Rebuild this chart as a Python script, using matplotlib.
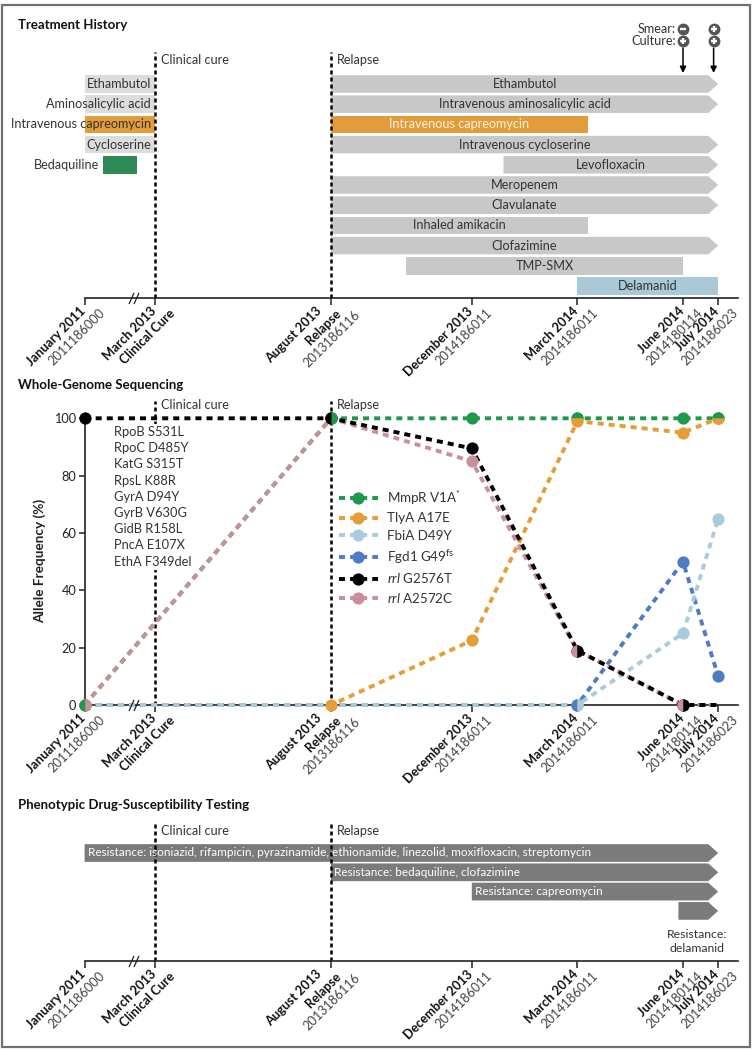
import matplotlib
matplotlib.use("Agg")
import matplotlib.pyplot as plt
from matplotlib.lines import Line2D
from matplotlib.patches import Rectangle, Polygon
from matplotlib import font_manager as fm

names = {f.name for f in fm.fontManager.ttflist}
FONT = "Lato" if "Lato" in names else "DejaVu Sans"
plt.rcParams["font.family"] = [FONT, "DejaVu Sans"]
plt.rcParams["mathtext.fontset"] = "custom"
plt.rcParams["mathtext.rm"] = FONT
plt.rcParams["mathtext.it"] = FONT + ":italic"
plt.rcParams["mathtext.bf"] = FONT + ":bold"

# ------------------------------------------------------------------ data
# time axis in months relative to March 2013 (Jan 2011 -> Mar 2013 is compressed by a break)
date_pos = [-2, 0, 5, 9, 12, 15, 16]
date_names = ["January 2011", "March 2013", "August 2013", "December 2013",
              "March 2014", "June 2014", "July 2014"]
date_events = ["", "Clinical Cure", "Relapse", "", "", "", ""]
sample_ids = ["2011186000", "", "2013186116", "2014186011", "2014186011",
              "2014180114", "2014186023"]
event_pos = [0, 5]
event_names = ["Clinical cure", "Relapse"]
axis_end = 16.55
break_pos = [-0.67, -0.54]

# Treatment history
pre_drugs = ["Ethambutol", "Aminosalicylic acid", "Intravenous capreomycin",
             "Cycloserine", "Bedaquiline"]
pre_start = [-2, -2, -2, -2, -1.47]
pre_end = [0, 0, 0, 0, -0.51]
pre_label_inside = [True, True, True, True, False]

post_drugs = ["Ethambutol", "Intravenous aminosalicylic acid", "Intravenous capreomycin",
              "Intravenous cycloserine", "Levofloxacin", "Meropenem", "Clavulanate",
              "Inhaled amikacin", "Clofazimine", "TMP-SMX", "Delamanid"]
post_start = [5, 5, 5, 5, 9.9, 5, 5, 5, 5, 7.13, 12]
post_end = [16, 16, 12.3, 16, 16, 16, 16, 12.3, 16, 15, 16]
post_ongoing = [True, True, False, True, True, True, True, False, True, False, False]

culture_dates = [15.0, 15.87]
smear_result = ["-", "+"]
culture_result = ["+", "+"]

# Whole-genome sequencing (allele frequency, %)
wgs_dates = [-2, 5, 9, 12, 15, 16]
mmpr = [0, 100, 100, 100, 100, 100]
tlya = [0, 0, 22.5, 99, 95, 100]
fbia = [0, 0, 0, 0, 25, 65]
fgd1 = [0, 0, 0, 0, 50, 10]
rrl_g = [100, 100, 89.5, 19, 0, 0]
rrl_a = [0, 100, 85, 19, 0, 0]
baseline_mutations = ["RpoB S531L", "RpoC D485Y", "KatG S315T", "RpsL K88R", "GyrA D94Y",
                      "GyrB V630G", "GidB R158L", "PncA E107X", "EthA F349del"]

# Phenotypic DST
pdst_labels = ["Resistance: isoniazid, rifampicin, pyrazinamide, ethionamide, linezolid, moxifloxacin, streptomycin",
               "Resistance: bedaquiline, clofazimine",
               "Resistance: capreomycin",
               "Resistance:\ndelamanid"]
pdst_start = [-2, 5, 9, 14.87]
pdst_end = [16, 16, 16, 16]

# ------------------------------------------------------------------ styles
W, H, DPI = 755, 1050, 100
X0, PPM = 155.0, 35.2          # pixel of month 0, pixels per month
XL = (-X0 / PPM, (W - X0) / PPM)
HEAD = 10 / PPM
GRAY = "#c8c8c8"
LGRAY = "#dcdcdc"
ORANGE_BAR = "#e39c3a"
GREEN_BAR = "#2e8b57"
BLUE_BAR = "#a9c8d8"
DARK_BAR = "#7b7b7b"
TXT = "#333333"
EVT_LS = (0, (1.6, 1.2))
FS = 9.1

C_MMPR, C_TLYA, C_FBIA, C_FGD1, C_RRLG, C_RRLA = (
    "#1b9a4b", "#e69d37", "#a8ccdb", "#4f7bc4", "#000000", "#c9909b")

fig = plt.figure(figsize=(W / DPI, H / DPI), dpi=DPI)


def box(top, bottom):
    return [0, 1 - bottom / H, 1, (bottom - top) / H]


def style_time_axis(ax, ybase):
    for s in ["top", "right", "left"]:
        ax.spines[s].set_visible(False)
    ax.spines["bottom"].set_bounds(-2, axis_end)
    ax.spines["bottom"].set_linewidth(1.2)
    ax.spines["bottom"].set_color("#222222")
    ax.set_xlim(XL)
    ax.set_xticks(date_pos)
    ax.set_xticklabels([])
    ax.tick_params(axis="x", direction="out", length=5, width=1.1, color="#222222")
    ax.set_facecolor("none")
    # axis break
    ax.plot(break_pos, [ybase] * len(break_pos), ls="none",
            marker=[(-0.45, -1), (0.45, 1)], ms=8, mew=0.9, color="#222222",
            clip_on=False, zorder=6)
    # rotated date labels
    for x, nm, ev, sid in zip(date_pos, date_names, date_events, sample_ids):
        lines = [(nm, "bold", "#111111")]
        if ev:
            lines.append((ev, "bold", "#111111"))
        if sid:
            lines.append((sid, "normal", "#444444"))
        n = len(lines)
        for k, (t, wgt, col) in enumerate(lines):
            dx = -5 - 10.5 * (n - 2) + 19 * k
            dy = -(7 + 2 * k)
            ax.annotate(t, xy=(x, ybase), xytext=(dx * 0.72, dy * 0.72),
                        textcoords="offset points", rotation=45, rotation_mode="anchor",
                        ha="right", va="top", fontsize=9.2, fontweight=wgt, color=col,
                        annotation_clip=False)


def arrow_bar(ax, s, e, r, h, color, ongoing):
    if ongoing:
        pts = [(s, r - h / 2), (e - HEAD, r - h / 2), (e, r), (e - HEAD, r + h / 2), (s, r + h / 2)]
    else:
        pts = [(s, r - h / 2), (e, r - h / 2), (e, r + h / 2), (s, r + h / 2)]
    ax.add_patch(Polygon(pts, closed=True, fc=color, ec="none", zorder=2))


def event_lines(ax, y0, y1, ylab):
    ax.vlines(event_pos, y0, y1, colors="black", linestyles=EVT_LS, lw=1.8, zorder=2.5)
    for x, t in zip(event_pos, event_names):
        ax.text(x + 6 / PPM, ylab, t, ha="left", va="center", fontsize=FS, color=TXT)


# ------------------------------------------------------------------ Treatment history
rowT = lambda p: (p - 84) / 20.2
axT = fig.add_axes(box(10, 298))
axT.set_ylim(rowT(298), rowT(10))
axT.set_yticks([])
style_time_axis(axT, rowT(298))
event_lines(axT, rowT(298), rowT(52), rowT(60))

BH = 0.866
pre_colors = [LGRAY, LGRAY, ORANGE_BAR, LGRAY, GREEN_BAR]
for i, (d, s, e, inside) in enumerate(zip(pre_drugs, pre_start, pre_end, pre_label_inside)):
    axT.barh(i, e - s, left=s, height=BH, color=pre_colors[i], zorder=2)
    xl = (e if inside else s) - 4 / PPM
    axT.text(xl, i, d, ha="right", va="center", fontsize=FS, color=TXT, zorder=3)

for i, (d, s, e, og) in enumerate(zip(post_drugs, post_start, post_end, post_ongoing)):
    col = ORANGE_BAR if "capreomycin" in d else (BLUE_BAR if d == "Delamanid" else GRAY)
    arrow_bar(axT, s, e, i, BH, col, og)
    tc = "#fbf3e4" if "capreomycin" in d else TXT
    axT.text((s + e) / 2, i, d, ha="center", va="center", fontsize=FS, color=tc, zorder=3)

# smear / culture
for j, (d, sm, cu) in enumerate(zip(culture_dates, smear_result, culture_result)):
    for yy, res in [(rowT(29), sm), (rowT(41), cu)]:
        axT.plot([d], [yy], "o", ms=7.5, color="#555555", clip_on=False, zorder=4)
        axT.plot([d], [yy], marker="+" if res == "+" else "_", ms=5, mew=1.7,
                 color="white", clip_on=False, zorder=5)
    axT.annotate("", xy=(d, rowT(73)), xytext=(d, rowT(48)),
                 arrowprops=dict(arrowstyle="-|>", color="black", lw=1.1,
                                 mutation_scale=9, shrinkA=0, shrinkB=0))
axT.text(culture_dates[0] - 7 / PPM, rowT(29), "Smear:", ha="right", va="center",
         fontsize=FS, color=TXT)
axT.text(culture_dates[0] - 7 / PPM, rowT(41), "Culture:", ha="right", va="center",
         fontsize=FS, color=TXT)

# ------------------------------------------------------------------ Whole-genome sequencing
vW = lambda p: (705 - p) / 2.867
axW = fig.add_axes(box(395, 722))
axW.set_ylim(vW(722), vW(395))
style_time_axis(axW, 0)
axW.spines["bottom"].set_position(("data", 0))
axW.spines["left"].set_visible(True)
axW.spines["left"].set_position(("data", -2))
axW.spines["left"].set_bounds(0, 100)
axW.spines["left"].set_linewidth(1.2)
axW.spines["left"].set_color("#222222")
axW.set_yticks([0, 20, 40, 60, 80, 100])
axW.tick_params(axis="y", direction="out", length=4, width=1.1, pad=2,
                labelsize=9.2, color="#222222", labelcolor="#222222")
event_lines(axW, 0, vW(401), vW(405))
axW.text(-1.165, vW(426), "\n".join(baseline_mutations), ha="left", va="top",
         fontsize=9.3, color=TXT, linespacing=1.42, zorder=3,
         bbox=dict(fc="white", ec="none", pad=1.5))

LW, MS = 2.8, 8.8
DASH = (0, (1.55, 1.3))
series = [  # draw order
    (mmpr, C_MMPR, [0, 1, 2, 3, 4, 5]),
    (tlya, C_TLYA, [0, 1, 2, 3, 4, 5]),
    (fgd1, C_FGD1, [3, 4, 5]),
    (fbia, C_FBIA, [3, 4, 5]),
    (rrl_a, C_RRLA, [0, 1, 2, 3, 4]),
    (rrl_g, C_RRLG, [0, 1, 2, 3, 4]),
]
for k, (vals, col, mk) in enumerate(series):
    axW.plot(wgs_dates, vals, color=col, lw=LW, ls=DASH, clip_on=False, zorder=3 + 0.1 * k)
for k, (vals, col, mk) in enumerate(series):
    axW.plot([wgs_dates[i] for i in mk], [vals[i] for i in mk], ls="none", marker="o",
             ms=MS, color=col, mec="none", clip_on=False, zorder=5 + 0.1 * k)

# coinciding points drawn as two-colour markers
shared = [(mmpr, C_MMPR, C_RRLA, 0, "left"),
          (rrl_g, C_RRLG, C_MMPR, 1, "left"),
          (mmpr, C_MMPR, C_TLYA, 3, "top"),
          (rrl_a, C_RRLA, C_RRLG, 3, "left"),
          (fgd1, C_FGD1, C_FBIA, 3, "left"),
          (rrl_a, C_RRLA, C_RRLG, 4, "left"),
          (mmpr, C_MMPR, C_TLYA, 5, "top")]
for vals, c1, c2, i, fs in shared:
    axW.plot([wgs_dates[i]], [vals[i]], ls="none", marker="o", ms=MS, fillstyle=fs,
             markerfacecolor=c1, markerfacecoloralt=c2, mec="none", clip_on=False, zorder=7)

leg_items = [(C_MMPR, r"MmpR V1A$^{*}$"), (C_TLYA, "TlyA A17E"), (C_FBIA, "FbiA D49Y"),
             (C_FGD1, r"Fgd1 G49$^{\mathrm{fs}}$"), (C_RRLG, r"$\mathit{rrl}$ G2576T"),
             (C_RRLA, r"$\mathit{rrl}$ A2572C")]
handles = [Line2D([], [], color=c, lw=LW, ls=DASH, marker="o", ms=MS, mec="none")
           for c, _ in leg_items]
axW.legend(handles, [t for _, t in leg_items], loc="upper left",
           bbox_to_anchor=(339 / W, 1 - 489 / H), bbox_transform=fig.transFigure,
           frameon=False, fontsize=9.6, handlelength=2.9, handletextpad=0.7,
           labelspacing=0.42, borderpad=0, borderaxespad=0, labelcolor=TXT)

fig.text(40 / W, 1 - 561 / H, "Allele Frequency (%)", rotation=90, ha="center", va="center",
         fontsize=9.8, fontweight="bold", color="#222222")

# ------------------------------------------------------------------ Phenotypic DST
rowP = lambda p: (p - 853) / 19.3
axP = fig.add_axes(box(790, 961))
axP.set_ylim(rowP(961), rowP(790))
axP.set_yticks([])
style_time_axis(axP, rowP(961))
event_lines(axP, rowP(961), rowP(821), rowP(831))
for i, (t, s, e) in enumerate(zip(pdst_labels, pdst_start, pdst_end)):
    arrow_bar(axP, s, e, i, 0.92, DARK_BAR, True)
    if "\n" in t:
        axP.text(15.4, i + 0.95, t, ha="center", va="top", fontsize=8.8, color=TXT,
                 linespacing=1.3)
    else:
        axP.text(s + 3 / PPM, i, t, ha="left", va="center", fontsize=8.5, color="white",
                 zorder=3)

# ------------------------------------------------------------------ titles & frame
for y, t in [(25, "Treatment History"), (385, "Whole-Genome Sequencing"),
             (805, "Phenotypic Drug-Susceptibility Testing")]:
    fig.text(18 / W, 1 - y / H, t, ha="left", va="center", fontsize=9.5,
             fontweight="bold", color="#111111")

fig.add_artist(Rectangle((1.5 / W, 3 / H), 748.5 / W, 1042 / H, transform=fig.transFigure,
                         fill=False, ec="#707070", lw=1.6))

fig.savefig("out.png", dpi=DPI)
